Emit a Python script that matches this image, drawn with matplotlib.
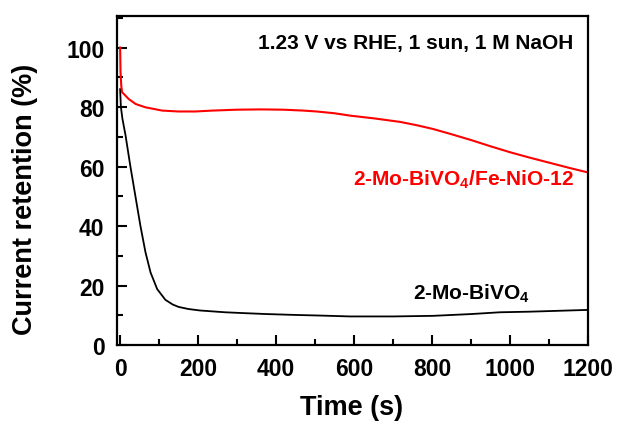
import matplotlib
matplotlib.use("Agg")
import matplotlib.pyplot as plt
from matplotlib.ticker import MultipleLocator

plt.rcParams["font.family"] = ["Liberation Sans", "DejaVu Sans"]
plt.rcParams["font.weight"] = "bold"
plt.rcParams["mathtext.fontset"] = "custom"
plt.rcParams["mathtext.rm"] = "Liberation Sans:bold"
plt.rcParams["mathtext.it"] = "Liberation Sans:bold"
plt.rcParams["mathtext.bf"] = "Liberation Sans:bold"

# Current retention of the bare photoanode
t_bare = [0, 2, 6, 14, 26, 39, 52, 65, 78, 95, 116, 135, 150, 175, 205, 269,
          320, 376, 450, 512, 590, 700, 802, 900, 974, 1050, 1100, 1200]
ret_bare = [86, 80, 76, 70.4, 60.3, 50.2, 40.1, 31.2, 24.4, 18.8, 15.2, 13.6,
            12.8, 12.1, 11.6, 11.0, 10.7, 10.4, 10.1, 9.9, 9.6, 9.6, 9.8, 10.4,
            11.0, 11.2, 11.4, 11.8]

# Current retention of the co-catalyst loaded photoanode
t_coat = [0, 1, 3, 5, 22, 40, 65, 108, 150, 193, 236, 299, 360, 419, 470,
          504, 550, 590, 650, 718, 760, 803, 846, 900, 950, 1000, 1050, 1100,
          1150, 1200]
ret_coat = [100, 92, 87, 85, 82.7, 81, 79.9, 78.8, 78.5, 78.5, 78.8, 79.1,
            79.2, 79.1, 78.8, 78.5, 77.9, 77.1, 76.2, 75, 73.9, 72.6, 71.0, 68.9,
            66.8, 64.8, 63.0, 61.3, 59.6, 58]

x_ticks = [0, 200, 400, 600, 800, 1000, 1200]
y_ticks = [0, 20, 40, 60, 80, 100]

fig = plt.figure(figsize=(6.21, 4.27), dpi=100)
ax = fig.add_axes([0.1884, 0.1897, 0.7585, 0.7705])

ax.plot(t_bare, ret_bare, color="black", lw=1.3)
ax.plot(t_coat, ret_coat, color="#ff0000", lw=1.5)

ax.set_xlim(-8, 1200)
ax.set_ylim(0, 110.6)
ax.set_xticks(x_ticks)
ax.set_yticks(y_ticks)
ax.xaxis.set_minor_locator(MultipleLocator(100))
ax.yaxis.set_minor_locator(MultipleLocator(10))

for side in ax.spines.values():
    side.set_linewidth(1.6)
ax.tick_params(which="both", direction="in", top=False, right=False,
               width=1.5, labelsize=16.5, pad=9)
ax.tick_params(which="major", length=7)
ax.tick_params(which="minor", length=4)
for lab in ax.get_xticklabels() + ax.get_yticklabels():
    lab.set_fontweight("bold")

# Axis titles
fig.text(352 / 621, 1 - 408 / 427, "Time (s)", ha="center", va="center",
         fontsize=19.5, fontweight="bold")
fig.text(25 / 621, 1 - 199 / 427, "Current retention (%)", ha="center",
         va="center", rotation=90, fontsize=19.5, fontweight="bold")

ax.text(0.968, 0.919, "1.23 V vs RHE, 1 sun, 1 M NaOH", transform=ax.transAxes,
        ha="right", va="center", fontsize=15, fontweight="bold")
ax.text(882, 55.8, r"2-Mo-BiVO$_4$/Fe-NiO-12", color="#ff0000",
        ha="center", va="center", fontsize=15, fontweight="bold")
ax.text(900, 17.6, r"2-Mo-BiVO$_4$", color="black",
        ha="center", va="center", fontsize=15, fontweight="bold")

fig.savefig("out.png", dpi=100)
